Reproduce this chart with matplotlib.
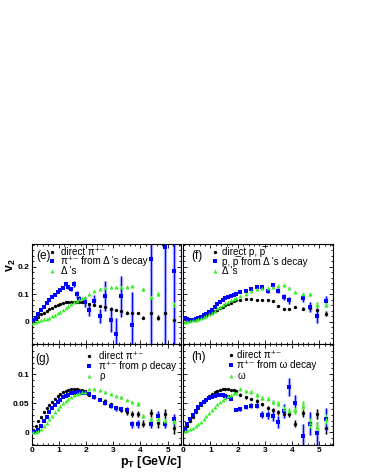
import numpy as np
import matplotlib
matplotlib.use('Agg')
import matplotlib.pyplot as plt
from matplotlib.ticker import MultipleLocator

plt.rcParams['font.family'] = ['Liberation Sans', 'DejaVu Sans']
plt.rcParams['mathtext.fontset'] = 'custom'
plt.rcParams['mathtext.rm'] = 'Liberation Sans'
plt.rcParams['mathtext.it'] = 'Liberation Sans:italic'
plt.rcParams['mathtext.bf'] = 'Liberation Sans:bold'

nan = np.nan

# pT bin centres (GeV/c)
pt = [0.05, 0.15, 0.25, 0.35, 0.45, 0.55, 0.65, 0.75, 0.85, 0.95,
      1.05, 1.15, 1.25, 1.35, 1.45, 1.55, 1.65, 1.75, 1.85, 1.95,
      2.1, 2.3, 2.5, 2.7, 2.9, 3.1, 3.3, 3.5, 3.7, 3.9, 4.1, 4.4, 4.65, 4.9, 5.25]

# direct pions (panels e, g, h)
direct_pi = [0.003, 0.011, 0.019, 0.027, 0.034, 0.041, 0.047, 0.052, 0.057, 0.062,
             0.066, 0.069, 0.071, 0.073, 0.074, 0.074, 0.074, 0.073, 0.072, 0.071,
             0.065, 0.060, 0.057, 0.054, 0.048, 0.042, 0.038, 0.034, 0.031, 0.032,
             0.015, 0.033, 0.016, 0.031, 0.007]
direct_pi_err = [0] * 20 + [0.002, 0.002, 0.002, 0.003, 0.003, 0.003, 0.004, 0.004,
                            0.005, 0.005, 0.006, 0.007, 0.008, 0.009, 0.010]

# (e) pions from Delta decay, Deltas
delta_pi = [0.006, 0.016, 0.028, 0.042, 0.056, 0.068, 0.080, 0.090, 0.099, 0.107,
            0.115, 0.124, 0.137, 0.127, 0.120, 0.138, 0.100, 0.082, nan, 0.071,
            0.042, 0.077, 0.022, 0.095, 0.008, -0.044, 0.093, nan, -0.010, nan,
            nan, 0.228, nan, 0.272, 0.185]
delta_pi_err = [0] * 12 + [0.003, 0.006, 0.008, 0.010, 0.012, 0.014, nan, 0.018,
                           0.020, 0.020, 0.025, 0.055, 0.045, 0.060, 0.075, nan,
                           0.120, nan, nan, 0.450, nan, 0.450, 0.400]
delta_res = [-0.003, 0.000, 0.003, 0.006, 0.009, 0.012, 0.016, 0.020, 0.025, 0.031,
             0.037, 0.044, 0.051, 0.058, 0.065, 0.071, 0.077, 0.082, 0.087, 0.091,
             0.100, 0.111, 0.120, 0.125, 0.126, 0.126, 0.127, 0.128, 0.130, nan,
             0.118, 0.090, 0.100, nan, 0.064]
delta_res_err = [0] * 20 + [0.002] * 6 + [0.003, 0.003, 0.004, nan, 0.005, 0.006, 0.007, nan, 0.008]

# (f) direct protons, protons from Delta decay, Deltas
direct_p = [0.012, 0.008, 0.006, 0.006, 0.007, 0.010, 0.013, 0.017, 0.022, 0.027,
            0.032, 0.038, 0.045, 0.050, 0.056, 0.060, 0.065, 0.070, 0.075, 0.079,
            0.081, 0.083, 0.084, 0.081, 0.079, 0.079, 0.077, 0.057, 0.047, 0.047,
            0.054, 0.048, 0.050, 0.044, 0.030]
direct_p_err = [0] * 20 + [0.002, 0.002, 0.002, 0.002, 0.003, 0.003, 0.003, 0.004,
                           0.004, 0.005, 0.005, 0.006, 0.006, 0.007, 0.008]
delta_p = [0.014, 0.010, 0.008, 0.008, 0.010, 0.013, 0.018, 0.024, 0.030, 0.037,
           0.045, 0.055, 0.065, 0.073, 0.080, 0.086, 0.090, 0.094, 0.097, 0.100,
           0.107, 0.113, 0.121, 0.127, 0.127, 0.112, 0.133, 0.114, 0.090, 0.078,
           nan, 0.087, 0.054, 0.022, 0.075]
delta_p_err = [0] * 20 + [0.003, 0.003, 0.004, 0.004, 0.005, 0.006, 0.006, 0.008,
                          0.010, 0.012, nan, 0.015, 0.018, 0.025, 0.018]
delta_f = [-0.002, 0.002, 0.004, 0.006, 0.008, 0.011, 0.014, 0.018, 0.023, 0.028,
           0.034, 0.041, 0.049, 0.056, 0.063, 0.069, 0.074, 0.079, 0.084, 0.088,
           0.094, 0.102, 0.112, 0.118, 0.122, 0.125, 0.128, 0.131, 0.133, 0.125,
           0.108, 0.100, 0.100, 0.063, 0.063]
delta_f_err = [0] * 20 + [0.002] * 8 + [0.003, 0.003, 0.004, 0.005, 0.006, 0.008, 0.008]

# (g) pions from rho decay, rhos
rho_pi = [0.000, 0.000, 0.004, 0.011, 0.019, 0.027, 0.034, 0.041, 0.047, 0.052,
          0.056, 0.060, 0.063, 0.065, 0.067, 0.068, 0.069, 0.069, 0.068, 0.067,
          0.066, 0.061, 0.056, 0.050, 0.045, 0.041, 0.040, 0.039, 0.014, 0.014,
          nan, 0.015, 0.028, 0.015, 0.022]
rho_pi_err = [0] * 20 + [0.002, 0.002, 0.003, 0.003, 0.003, 0.004, 0.004, 0.005,
                         0.006, 0.007, nan, 0.007, 0.008, 0.008, 0.009]
rho_res = [0.000, 0.000, 0.002, 0.006, 0.011, 0.016, 0.022, 0.028, 0.034, 0.040,
           0.045, 0.050, 0.054, 0.058, 0.061, 0.064, 0.066, 0.068, 0.069, 0.070,
           0.074, 0.075, 0.072, 0.070, 0.066, 0.063, 0.060, 0.055, 0.052, 0.049,
           0.028, 0.022, 0.022, 0.020, 0.020]
rho_res_err = [0] * 20 + [0.001] * 6 + [0.002, 0.002, 0.002, 0.003, 0.003, 0.004, 0.004, 0.005, 0.005]

# (h) pions from omega decay, omegas
omega_pi = [0.006, 0.014, 0.022, 0.030, 0.037, 0.043, 0.048, 0.052, 0.056, 0.059,
            0.061, 0.063, 0.064, 0.065, 0.064, 0.063, 0.061, 0.058, nan, 0.038,
            0.040, 0.043, 0.046, 0.046, 0.030, 0.029, 0.028, 0.018, 0.036, 0.078,
            0.050, -0.006, 0.015, -0.002, 0.022]
omega_pi_err = [0] * 20 + [0.003, 0.003, 0.004, 0.004, 0.006, 0.007, 0.008, 0.010,
                           0.012, 0.015, 0.015, 0.020, 0.020, 0.020, 0.020]
omega_res = [0.002, 0.003, 0.005, 0.008, 0.011, 0.014, 0.018, 0.023, 0.028, 0.033,
             0.038, 0.043, 0.048, 0.052, 0.056, 0.059, 0.062, 0.065, 0.067, 0.068,
             0.074, 0.071, 0.070, 0.064, 0.059, 0.058, 0.052, 0.049, 0.040, 0.037,
             0.038, 0.046, 0.016, 0.009, 0.023]
omega_res_err = [0] * 20 + [0.002, 0.002, 0.002, 0.003, 0.003, 0.003, 0.004, 0.004,
                            0.005, 0.005, 0.006, 0.008, 0.008, 0.009, 0.009]

BLACK, BLUE, GREEN = 'black', '#0000ff', '#33ee22'
BANDS = {BLACK: '#b4b4b4', BLUE: '#a4a8ff', GREEN: '#a8f29c'}
MARKERS = {BLACK: ('o', 2.4), BLUE: ('s', 3.0), GREEN: ('^', 2.8)}

fig = plt.figure(figsize=(3.65, 4.73), dpi=100)

W = 0.409
H = 0.2135
axes = {
    'e': fig.add_axes([0.0868, 0.2717, W, H]),
    'f': fig.add_axes([0.5022, 0.2717, W, H]),
    'g': fig.add_axes([0.0868, 0.0592, W, H]),
    'h': fig.add_axes([0.5022, 0.0592, W, H]),
}

PBAR = 'p\u0305'
panels = {
    'e': [(direct_pi, direct_pi_err, BLACK, 'direct π⁺⁻'),
          (delta_pi, delta_pi_err, BLUE, 'π⁺⁻ from Δ \'s decay'),
          (delta_res, delta_res_err, GREEN, 'Δ \'s')],
    'f': [(direct_p, direct_p_err, BLACK, 'direct p, ' + PBAR),
          (delta_p, delta_p_err, BLUE, 'p, ' + PBAR + ' from Δ \'s decay'),
          (delta_f, delta_f_err, GREEN, 'Δ \'s')],
    'g': [(direct_pi, direct_pi_err, BLACK, 'direct π⁺⁻'),
          (rho_pi, rho_pi_err, BLUE, 'π⁺⁻ from ρ decay'),
          (rho_res, rho_res_err, GREEN, 'ρ')],
    'h': [(direct_pi, direct_pi_err, BLACK, 'direct π⁺⁻'),
          (omega_pi, omega_pi_err, BLUE, 'π⁺⁻ from ω decay'),
          (omega_res, omega_res_err, GREEN, 'ω')],
}

# legend placement in axes fraction: tag x, tag y, marker x, text x, row ys
legend_pos = {
    'e': (0.03, 0.875, 0.136, 0.196, [0.916, 0.825, 0.728]),
    'f': (0.05, 0.875, 0.212, 0.262, [0.918, 0.825, 0.726]),
    'g': (0.025, 0.856, 0.386, 0.451, [0.886, 0.786, 0.687]),
    'h': (0.05, 0.870, 0.319, 0.362, [0.896, 0.796, 0.687]),
}

for key, ax in axes.items():
    series = panels[key]
    # wide light error bands first, then the points with thin error bars
    for y, err, color, label in series:
        ax.errorbar(pt, y, yerr=err, fmt='none', ecolor=BANDS[color],
                    elinewidth=2.4, capsize=0, zorder=1)
    for y, err, color, label in series:
        m, ms = MARKERS[color]
        ax.errorbar(pt, y, yerr=err, fmt=m, color=color, ms=ms, mew=0,
                    elinewidth=0.7, capsize=0, zorder=3)

    tx, ty, mx, lx, rows = legend_pos[key]
    ax.text(tx, ty, '(%s)' % key, transform=ax.transAxes, fontsize=8.5,
            va='center', ha='left')
    for (y, err, color, label), ry in zip(series, rows):
        m, ms = MARKERS[color]
        ax.plot([mx], [ry], m, color=color, ms=ms, mew=0,
                transform=ax.transAxes, clip_on=False)
        ax.text(lx, ry, label, transform=ax.transAxes, fontsize=7.1,
                va='center', ha='left')

    ax.set_xlim(0, 5.49)
    ax.xaxis.set_major_locator(MultipleLocator(1))
    ax.xaxis.set_minor_locator(MultipleLocator(0.2))
    if key in ('e', 'f'):
        ax.set_ylim(-0.082, 0.285)
        ax.yaxis.set_minor_locator(MultipleLocator(0.02))
        ax.set_yticks([0, 0.1, 0.2])
        ax.set_yticklabels(['0', '0.1', '0.2'])
        ax.tick_params(labelbottom=False)
    else:
        ax.set_ylim(-0.022, 0.152)
        ax.yaxis.set_minor_locator(MultipleLocator(0.01))
        ax.set_yticks([0, 0.05, 0.1])
        ax.set_yticklabels(['0', '0.05', '0.1'])
        ax.set_xticks([0, 1, 2, 3, 4, 5])
        ax.set_xticklabels(['0', '1', '2', '3', '4', '5'])
    if key in ('f', 'h'):
        ax.tick_params(labelleft=False)

    ax.tick_params(which='both', direction='in', top=True, right=True,
                   width=0.6, labelsize=6, pad=1.5)
    ax.tick_params(which='major', length=3.2)
    ax.tick_params(which='minor', length=1.7)
    for lab in ax.get_xticklabels() + ax.get_yticklabels():
        lab.set_fontweight('bold')
    for sp in ax.spines.values():
        sp.set_linewidth(0.8)

fig.text(0.03, 0.44, r'v$_{\mathbf{2}}$', rotation=90, fontsize=9,
         fontweight='bold', ha='center', va='center')
fig.text(0.498, 0.016, r'p$_{\mathbf{T}}$ [GeV/c]', fontsize=9,
         fontweight='bold', ha='right', va='baseline')

fig.savefig('out.png', dpi=100)
